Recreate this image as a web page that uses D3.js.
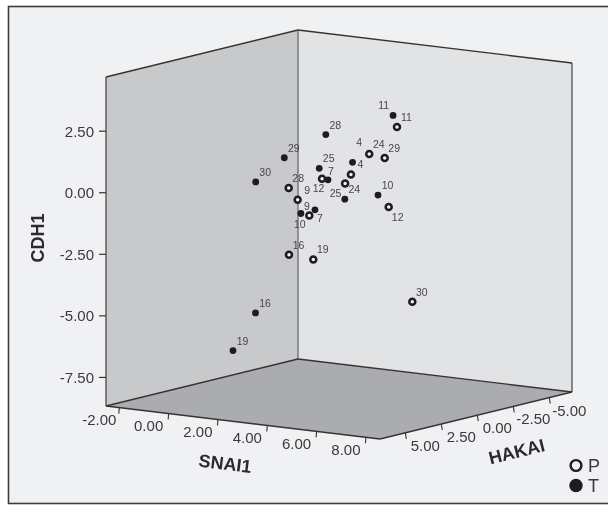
<!DOCTYPE html>
<html>
<head>
<meta charset="utf-8">
<script src="https://cdn.jsdelivr.net/npm/d3@7"></script>
<style>
html, body { margin: 0; padding: 0; background: #fff; }
svg { display: block; filter: blur(0.3px); }
text { font-family: "Liberation Sans", Arial, sans-serif; }
</style>
</head>
<body>
<svg id="chart" width="608" height="506"></svg>
<script>
// case labels and coordinates, one array per variable
const caseP = ["11", "24", "29", "4", "25", "12", "28", "9", "7", "12", "16", "19", "30"];
const snaiP = [4.73, 4.48, 3.94, 4.03, 3.21, 3.15, 2.09, 1.87, 2.05, 3.81, 1.81, 1.92, 3.60];
const hakaiP = [-1, 0.5, -1.5, 1, 0, 1.5, 2, 1, 0.5, -2, 1.5, 0, -4];
const cdhP = [2.44, 1.52, 1.01, 0.71, 0.10, 0.50, 0.07, -0.58, -1.27, -1.07, -2.75, -3.14, -5.23];

const caseT = ["11", "28", "29", "30", "25", "7", "4", "24", "10", "9", "10", "16", "19"];
const snaiT = [4.28, 2.72, 1.62, 0.46, 2.16, 3.10, 3.22, 3.49, 3.96, 2.28, 2.00, 0.16, -0.46];
const hakaiT = [-1.5, 0.5, 1.5, 1.5, 0, 1, -0.5, 0.5, -1, 0.5, 1, 1, 1.5];
const cdhT = [2.78, 2.10, 1.17, 0.05, 0.59, 0.38, 0.89, -0.43, -0.42, -1.01, -1.12, -5.38, -6.91];

const snaiTicks = [-2, 0, 2, 4, 6, 8];
const hakaiTicks = [5, 2.5, 0, -2.5, -5];
const cdhTicks = [2.5, 0, -2.5, -5, -7.5];

const snaiRange = [-2.54, 8.57];
const hakaiRange = [6.76, -6.58];
const cdhRange = [-8.66, 4.70];

// screen position of the front left bottom corner of the cube
const originX = 106;
const originY = 406;

// each axis moves the point along its own slanted direction
const snaiDx = d3.scaleLinear().domain(snaiRange).range([0, 274]);
const snaiDy = d3.scaleLinear().domain(snaiRange).range([0, 33]);
const hakaiDx = d3.scaleLinear().domain(hakaiRange).range([0, 192]);
const hakaiDy = d3.scaleLinear().domain(hakaiRange).range([0, -47]);
const cdhDy = d3.scaleLinear().domain(cdhRange).range([0, -329]);

function project(s, h, c) {
    return [
        originX + snaiDx(s) + hakaiDx(h),
        originY + snaiDy(s) + hakaiDy(h) + cdhDy(c)
    ];
}

// the chart prints a plain hyphen for negatives
function tickText(v) {
    return v.toFixed(2);
}

const svg = d3.select("#chart");
const inkColor = "#333333";
const textColor = "#3a3a3c";

svg.append("rect")
    .attr("x", 8.5).attr("y", 6.5)
    .attr("width", 620).attr("height", 497)
    .attr("fill", "#f0f1f3")
    .attr("stroke", "#3c3c3e")
    .attr("stroke-width", 1.6);

// corners of the cube
const [sLo, sHi] = snaiRange;
const [hLo, hHi] = hakaiRange;
const [cLo, cHi] = cdhRange;

function face(corners, fill) {
    svg.append("polygon")
        .attr("points", corners.map(function (d) {
            return project(d[0], d[1], d[2]).join(",");
        }).join(" "))
        .attr("fill", fill);
}

function edge(a, b, color, width) {
    const p = project(a[0], a[1], a[2]);
    const q = project(b[0], b[1], b[2]);
    svg.append("line")
        .attr("x1", p[0]).attr("y1", p[1])
        .attr("x2", q[0]).attr("y2", q[1])
        .attr("stroke", color)
        .attr("stroke-width", width);
}

face([[sLo, hLo, cLo], [sLo, hHi, cLo], [sLo, hHi, cHi], [sLo, hLo, cHi]], "#c8c9cb");
face([[sLo, hHi, cLo], [sHi, hHi, cLo], [sHi, hHi, cHi], [sLo, hHi, cHi]], "#e2e3e5");
face([[sLo, hLo, cLo], [sHi, hLo, cLo], [sHi, hHi, cLo], [sLo, hHi, cLo]], "#abacaf");

edge([sLo, hHi, cLo], [sLo, hHi, cHi], "#6a6b6d", 1.3);
edge([sHi, hHi, cLo], [sHi, hHi, cHi], "#5a5b5d", 1.4);
edge([sLo, hLo, cLo], [sLo, hLo, cHi], "#4a4a4c", 1.3);
edge([sLo, hLo, cHi], [sLo, hHi, cHi], inkColor, 1.4);
edge([sLo, hHi, cHi], [sHi, hHi, cHi], inkColor, 1.4);
edge([sLo, hLo, cLo], [sHi, hLo, cLo], inkColor, 1.5);
edge([sHi, hLo, cLo], [sHi, hHi, cLo], inkColor, 1.5);
edge([sLo, hLo, cLo], [sLo, hHi, cLo], inkColor, 1.4);
edge([sLo, hHi, cLo], [sHi, hHi, cLo], inkColor, 1.4);

// vertical axis
cdhTicks.forEach(function (c) {
    const p = project(sLo, hLo, c);
    svg.append("line")
        .attr("x1", p[0] - 7).attr("y1", p[1])
        .attr("x2", p[0]).attr("y2", p[1])
        .attr("stroke", inkColor).attr("stroke-width", 1.2);
    svg.append("text")
        .attr("x", p[0] - 12).attr("y", p[1] + 5.5)
        .attr("text-anchor", "end")
        .attr("font-size", 15)
        .attr("fill", textColor)
        .text(tickText(c));
});

// floor axes, ticks hang below the front edges
snaiTicks.forEach(function (s) {
    const p = project(s, hLo, cLo);
    svg.append("line")
        .attr("x1", p[0]).attr("y1", p[1])
        .attr("x2", p[0] - 0.5).attr("y2", p[1] + 6)
        .attr("stroke", inkColor).attr("stroke-width", 1.1);
    svg.append("text")
        .attr("x", p[0] - 20).attr("y", p[1] + 17.5)
        .attr("text-anchor", "middle")
        .attr("font-size", 15)
        .attr("fill", textColor)
        .text(tickText(s));
});

hakaiTicks.forEach(function (h) {
    const p = project(sHi, h, cLo);
    svg.append("line")
        .attr("x1", p[0]).attr("y1", p[1])
        .attr("x2", p[0] + 1).attr("y2", p[1] + 6)
        .attr("stroke", inkColor).attr("stroke-width", 1.1);
    svg.append("text")
        .attr("x", p[0] + 20).attr("y", p[1] + 18)
        .attr("text-anchor", "middle")
        .attr("font-size", 15)
        .attr("fill", textColor)
        .text(tickText(h));
});

// axis titles
function axisTitle(text, x, y, angle) {
    svg.append("text")
        .attr("transform", "translate(" + x + "," + y + ") rotate(" + angle + ")")
        .attr("text-anchor", "middle")
        .attr("dominant-baseline", "middle")
        .attr("font-size", 18)
        .attr("font-weight", "bold")
        .attr("fill", "#2b2b2d")
        .text(text);
}
axisTitle("CDH1", 39, 238, -90);
axisTitle("SNAI1", 225, 465, 7);
axisTitle("HAKAI", 517, 453, -14);

// label offsets from the marker, default is up and to the right
const labelShift = {
    "P25": [-9.5, 9.5], "P12_0": [-3.5, 9.5], "P12_1": [9, 9.5], "P7": [10.5, 2.5],
    "T11": [-9.5, -10], "T4": [6.5, -20], "T7": [3, -8.5], "T9": [-8, -4],
    "T10_1": [-1, 10.5]
};

function shiftFor(prefix, labels, i) {
    const name = prefix + labels[i];
    const nth = labels.slice(0, i).filter(function (d) { return d === labels[i]; }).length;
    return labelShift[name + "_" + nth] || labelShift[name] || [9.5, -10];
}

function drawCases(prefix, labels, snai, hakai, cdh, open) {
    const rows = labels.map(function (d, i) {
        return {label: d, at: project(snai[i], hakai[i], cdh[i]), shift: shiftFor(prefix, labels, i)};
    });
    const g = svg.append("g");
    g.selectAll("circle")
        .data(rows)
        .enter().append("circle")
        .attr("cx", function (d) { return d.at[0]; })
        .attr("cy", function (d) { return d.at[1]; })
        .attr("r", open ? 3 : 3.4)
        .attr("fill", open ? "#f0f1f3" : "#1d1d1f")
        .attr("stroke", open ? "#1d1d1f" : "none")
        .attr("stroke-width", open ? 2.5 : 0);
    g.selectAll("text")
        .data(rows)
        .enter().append("text")
        .attr("x", function (d) { return d.at[0] + d.shift[0]; })
        .attr("y", function (d) { return d.at[1] + d.shift[1] + 4; })
        .attr("text-anchor", "middle")
        .attr("font-size", 10.5)
        .attr("fill", "#47474a")
        .text(function (d) { return d.label; });
}

drawCases("T", caseT, snaiT, hakaiT, cdhT, false);
drawCases("P", caseP, snaiP, hakaiP, cdhP, true);

// legend
svg.append("circle").attr("cx", 576).attr("cy", 465.5).attr("r", 5.4)
    .attr("fill", "#f0f1f3").attr("stroke", "#1d1d1f").attr("stroke-width", 2.4);
svg.append("circle").attr("cx", 576).attr("cy", 485.5).attr("r", 6.7).attr("fill", "#1d1d1f");
svg.append("text").attr("x", 588).attr("y", 472).attr("font-size", 18).attr("fill", textColor).text("P");
svg.append("text").attr("x", 588).attr("y", 492).attr("font-size", 18).attr("fill", textColor).text("T");
</script>
</body>
</html>
